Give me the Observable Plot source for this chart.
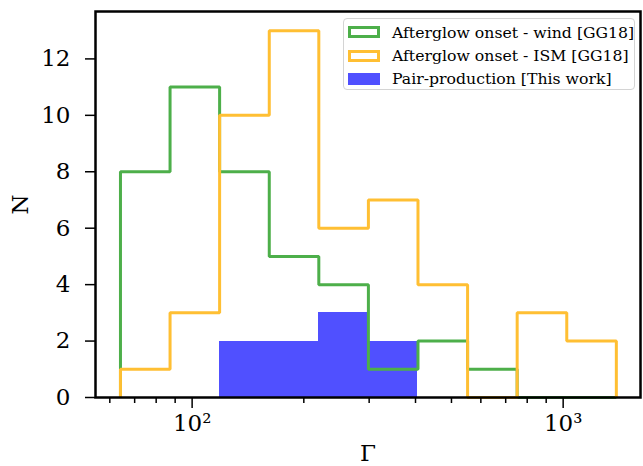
<!DOCTYPE html>
<html><head><meta charset="utf-8">
<script src="https://cdn.jsdelivr.net/npm/d3@7"></script>
<script src="https://cdn.jsdelivr.net/npm/@observablehq/plot@0.6"></script>
<style>
body{margin:0;background:#fff;}
#wrap{position:relative;width:643px;height:466px;overflow:hidden;font-family:"DejaVu Serif",serif;}
#legend{position:absolute;left:343px;top:18px;width:292px;height:72px;border:1px solid #d4d4d4;border-radius:4px;background:rgba(255,255,255,0.8);box-sizing:border-box;}
.row{position:absolute;left:0;height:20px;display:flex;align-items:center;font-size:15.7px;color:#000;white-space:nowrap;}
.sw{width:32px;height:12px;box-sizing:border-box;margin-left:4px;margin-right:12px;}
</style></head>
<body><div id="wrap"><div id="legend"></div></div>
<script>
// Histogram bin edges (log-spaced)
const edges = [64.1, 87.2, 118.6, 161.4, 219.5, 298.6, 406.2, 552.6, 751.7, 1022.6, 1391];
const windCounts = [8, 11, 8, 5, 4, 1, 2, 1, 0, 0];
const ismCounts  = [1, 3, 10, 13, 6, 7, 4, 0, 3, 2];
const pairCounts = [0, 0, 2, 2, 3, 2, 0, 0, 0, 0];
const seriesNames = ["Afterglow onset - wind [GG18]", "Afterglow onset - ISM [GG18]", "Pair-production [This work]"];
const seriesColors = ["#4daf4a", "#ffbf33", "#5050ff"];
const yTicks = [0, 2, 4, 6, 8, 10, 12];
const xMajorTicks = [100, 1000];
const xMinorTicks = [60, 70, 80, 90, 200, 300, 400, 500, 600, 700, 800, 900];

function stepPoints(counts) {
  const pts = [{x: edges[0], y: 0}];
  counts.forEach((c, i) => { pts.push({x: edges[i], y: c}); pts.push({x: edges[i + 1], y: c}); });
  pts.push({x: edges[edges.length - 1], y: 0});
  return pts;
}
const pairBins = pairCounts.map((c, i) => ({x1: edges[i], x2: edges[i + 1], y: c})).filter(d => d.y > 0);
const sup = {"0":"⁰","1":"¹","2":"²","3":"³","4":"⁴"};

const chart = Plot.plot({
  width: 643, height: 466,
  marginLeft: 95, marginRight: 3, marginTop: 11, marginBottom: 69,
  style: {fontFamily: "DejaVu Serif", fontSize: "23px", color: "#000", background: "#fff"},
  x: {type: "log", domain: [54.9, 1616]},
  y: {domain: [0, 13.68]},
  marks: [
    Plot.rectY(pairBins, {x1: "x1", x2: "x2", y: "y", fill: seriesColors[2], shapeRendering: "crispEdges"}),
    Plot.line(stepPoints(windCounts), {x: "x", y: "y", stroke: seriesColors[0], strokeWidth: 3, strokeLinejoin: "miter", strokeLinecap: "butt"}),
    Plot.line(stepPoints(ismCounts), {x: "x", y: "y", stroke: seriesColors[1], strokeWidth: 3, strokeLinejoin: "miter", strokeLinecap: "butt"}),
    Plot.axisX(xMinorTicks, {tickSize: 6, strokeWidth: 1.5, tickFormat: () => ""}),
    Plot.axisX(xMajorTicks, {tickSize: 11, strokeWidth: 1.5, tickPadding: 6, fontSize: 23,
      tickFormat: d => "10" + String(Math.round(Math.log10(d))).split("").map(c => sup[c]).join(""),
      label: "Γ", labelAnchor: "center", labelArrow: "none", labelOffset: 63}),
    Plot.axisY(yTicks, {tickSize: 10, strokeWidth: 1.5, tickPadding: 15, fontSize: 23,
      label: "N", labelAnchor: "center", labelArrow: "none", labelOffset: 84}),
    Plot.frame({stroke: "#000", strokeWidth: 2.5})
  ]
});
document.getElementById("wrap").prepend(chart);

const legend = document.getElementById("legend");
const rowTops = [3, 26.5, 49.5];
seriesNames.forEach((name, i) => {
  const row = document.createElement("div");
  row.className = "row";
  row.style.top = rowTops[i] + "px";
  const sw = document.createElement("div");
  sw.className = "sw";
  if (i < 2) { sw.style.border = "3px solid " + seriesColors[i]; sw.style.background = "#fff"; }
  else { sw.style.background = seriesColors[i]; }
  const t = document.createElement("span");
  t.textContent = name;
  row.appendChild(sw); row.appendChild(t);
  legend.appendChild(row);
});
</script>
</body></html>
